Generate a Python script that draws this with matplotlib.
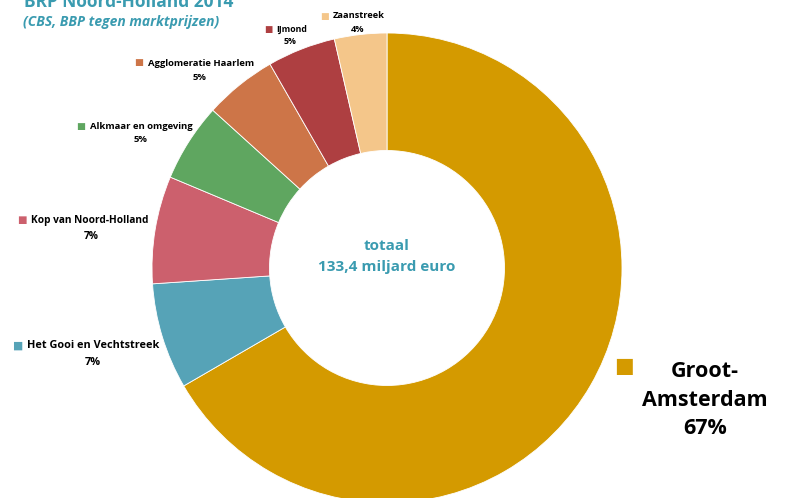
import matplotlib.pyplot as plt

# share of BBP per COROP region (percent)
regions = ["Groot-Amsterdam", "Het Gooi en Vechtstreek", "Kop van Noord-Holland",
           "Alkmaar en omgeving", "Agglomeratie Haarlem", "IJmond", "Zaanstreek"]
shares = [66.7, 7.3, 7.4, 5.4, 5.0, 4.7, 3.6]
colors = ["#D49A00", "#56A3B7", "#CC606D", "#5FA660", "#CD7548", "#AE3F41", "#F4C68A"]

teal = "#3A9BB0"
plt.rcParams['font.family'] = ['Open Sans', 'DejaVu Sans']

fig = plt.figure(figsize=(7.86, 4.98), dpi=100)
ax = fig.add_axes([152 / 786, -5 / 498, 470 / 786, 470 / 498])
ax.pie(shares, colors=colors, startangle=90, counterclock=False, radius=1,
       wedgeprops=dict(width=0.5, edgecolor="white", linewidth=0.6))
ax.set_xlim(-1, 1)
ax.set_ylim(-1, 1)
ax.set_aspect("equal")
ax.axis("off")

ax.text(0, 0.05, "totaal\n133,4 miljard euro", ha="center", va="center",
        color=teal, fontsize=11, fontweight="bold", linespacing=1.6)

fig.text(24 / 786, 1 - 7 / 498, "BRP Noord-Holland 2014", color=teal, fontsize=12.5,
         fontweight="bold", va="baseline")
fig.text(23 / 786, 1 - 22 / 498, "(CBS, BBP tegen marktprijzen)", color=teal, fontsize=10,
         fontweight="bold", style="italic", va="center")

# legend-like labels: (marker x, y, name x, pct x, pct y, fontsize) in pixels
spots = {
    "Zaanstreek": (325, 16, 333, 358, 30, 6.7),
    "IJmond": (268, 29, 276, 290, 42, 6.3),
    "Agglomeratie Haarlem": (139, 63, 148, 200, 78, 6.8),
    "Alkmaar en omgeving": (81, 126, 90, 141, 140, 6.8),
    "Kop van Noord-Holland": (22, 220, 31, 91, 236, 7.3),
    "Het Gooi en Vechtstreek": (17, 346, 27, 93, 362, 7.8),
}
for name, share, col in zip(regions, shares, colors):
    if name not in spots:
        continue
    mx, my, tx, px, py, fs = spots[name]
    fig.text(mx / 786, 1 - my / 498, "\u25A0", color=col, fontsize=fs, ha="center",
             va="center", family="DejaVu Sans")
    fig.text(tx / 786, 1 - my / 498, name, fontsize=fs, fontweight="bold", va="center")
    fig.text(px / 786, 1 - py / 498, "{:.0f}%".format(share), fontsize=fs,
             fontweight="bold", ha="center", va="center")

# big label for Groot-Amsterdam
fig.text(624 / 786, 1 - 366 / 498, "\u25A0", color=colors[0], fontsize=15, ha="center",
         va="center", family="DejaVu Sans")
fig.text(705 / 786, 1 - 400 / 498, "Groot-\nAmsterdam\n{:.0f}%".format(shares[0]),
         fontsize=15.5, fontweight="bold", ha="center", va="center", linespacing=1.45)

fig.savefig("out.png", dpi=100)
